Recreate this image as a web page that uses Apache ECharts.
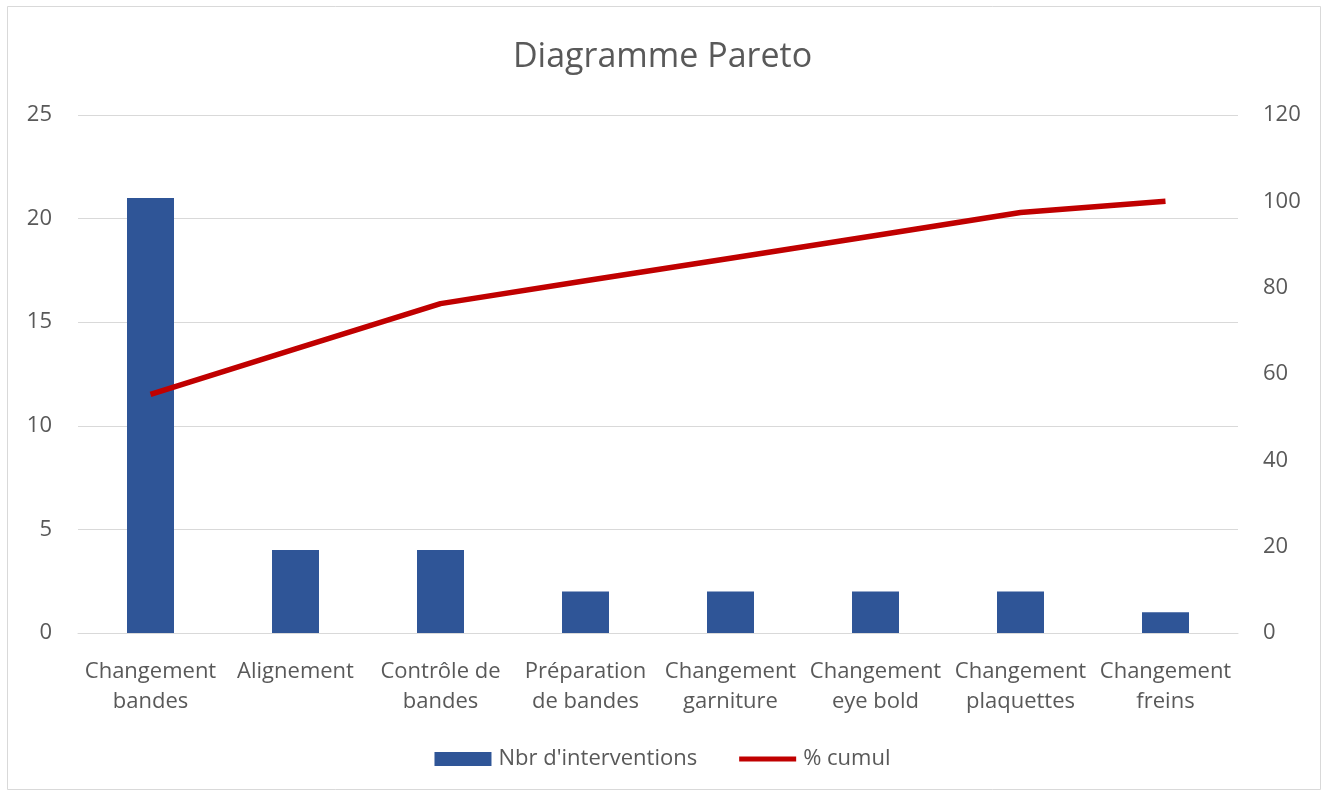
<!DOCTYPE html>
<html>
<head>
<meta charset="utf-8">
<script src="https://cdn.jsdelivr.net/npm/echarts@6/dist/echarts.min.js"></script>
<style>
  html, body { margin: 0; padding: 0; background: #ffffff; }
  #chart { width: 1325px; height: 796px; }
</style>
</head>
<body>
<div id="chart"></div>
<script>
// Intervention types, sorted by count
const categories = [
  'Changement\nbandes',
  'Alignement',
  'Contrôle de\nbandes',
  'Préparation\nde bandes',
  'Changement\ngarniture',
  'Changement\neye bold',
  'Changement\nplaquettes',
  'Changement\nfreins'
];
const interventions = [21, 4, 4, 2, 2, 2, 2, 1];
const cumulPercent = [55.3, 65.8, 76.3, 81.6, 86.8, 92.1, 97.4, 100];
const leftTicks = [0, 5, 10, 15, 20, 25];
const rightTicks = [0, 20, 40, 60, 80, 100, 120];

const FONT = '"Open Sans", "Noto Sans", sans-serif';
const TEXT = '#595959';

// Thin horizontal bar centred in a 57x14 box, used as the line's legend key
const LINE_KEY = 'path://M0,0 L0,0 M0,4.5 L57,4.5 L57,9.5 L0,9.5 Z M57,14 L57,14';

const chart = echarts.init(document.getElementById('chart'), null, { renderer: 'canvas' });
chart.setOption({
  animation: false,
  backgroundColor: '#ffffff',
  textStyle: { fontFamily: FONT, color: TEXT },
  graphic: [{
    type: 'rect',
    shape: { x: 7.5, y: 6.5, width: 1313, height: 783 },
    style: { fill: 'none', stroke: '#d9d9d9', lineWidth: 1 },
    silent: true
  }],
  title: {
    text: 'Diagramme Pareto',
    left: 'center',
    top: 35,
    textStyle: { fontFamily: FONT, fontSize: 34, fontWeight: 'normal', color: TEXT }
  },
  legend: {
    bottom: 21,
    left: 'center',
    itemGap: 42,
    itemWidth: 57,
    itemHeight: 14,
    textStyle: { fontFamily: FONT, fontSize: 22, color: TEXT, padding: [0, 0, 0, 2] },
    data: [
      { name: "Nbr d'interventions", icon: 'rect' },
      { name: '% cumul', icon: LINE_KEY, itemStyle: { color: '#c00000', borderWidth: 0 } }
    ]
  },
  grid: { left: 78, right: 87, top: 115, bottom: 163, containLabel: false },
  xAxis: {
    type: 'category',
    data: categories,
    axisTick: { show: false },
    axisLine: { show: true, lineStyle: { color: '#d9d9d9', width: 1 } },
    axisLabel: {
      interval: 0,
      margin: 24,
      fontFamily: FONT,
      fontSize: 22,
      color: TEXT,
      lineHeight: 30
    }
  },
  yAxis: [
    {
      type: 'value',
      position: 'left',
      min: leftTicks[0],
      max: leftTicks[leftTicks.length - 1],
      interval: 5,
      axisLine: { show: false },
      axisTick: { show: false },
      splitLine: { lineStyle: { color: '#d9d9d9', width: 1 } },
      axisLabel: { fontFamily: FONT, fontSize: 22, color: TEXT, margin: 26 }
    },
    {
      type: 'value',
      position: 'right',
      offset: 13,
      min: rightTicks[0],
      max: rightTicks[rightTicks.length - 1],
      interval: 20,
      axisLine: { show: false },
      axisTick: { show: false },
      splitLine: { show: false },
      axisLabel: { fontFamily: FONT, fontSize: 22, color: TEXT, margin: 12 }
    }
  ],
  series: [
    {
      name: "Nbr d'interventions",
      type: 'bar',
      yAxisIndex: 0,
      data: interventions,
      barWidth: 47,
      itemStyle: { color: '#2f5597' }
    },
    {
      name: '% cumul',
      type: 'line',
      yAxisIndex: 1,
      data: cumulPercent,
      symbol: 'none',
      lineStyle: { color: '#c00000', width: 5.5, cap: 'butt', join: 'round' },
      itemStyle: { color: '#c00000' }
    }
  ]
});
</script>
</body>
</html>
